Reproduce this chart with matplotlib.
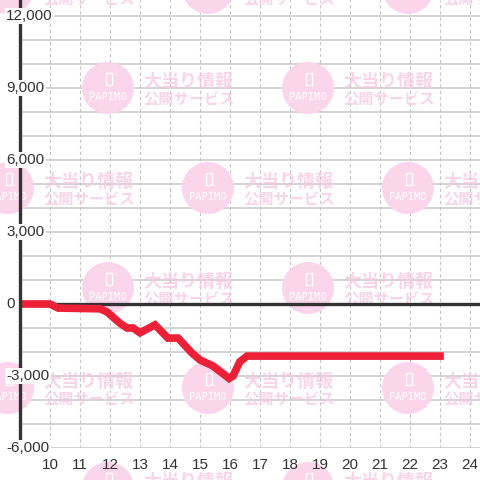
import matplotlib
matplotlib.use("Agg")
import matplotlib.pyplot as plt
import matplotlib.transforms as mtransforms
from matplotlib.patches import Circle, Rectangle

# data
hours = [9, 10, 10.27, 11.67, 11.9, 12.33, 12.57, 12.77, 13.0, 13.5, 13.93,
         14.27, 14.73, 15.0, 15.43, 15.97, 16.1, 16.33, 16.57, 23]
values = [0, 0, -170, -200, -330, -800, -1000, -1000, -1200, -870, -1420,
          -1420, -2040, -2330, -2580, -3100, -3000, -2400, -2170, -2170]
x_ticks = list(range(10, 25))
y_ticks = [12000, 9000, 6000, 3000, 0, -3000, -6000]
y_labels = ["12,000", "9,000", "6,000", "3,000", "0", "-3,000", "-6,000"]

plt.rcParams["font.family"] = ["Liberation Sans", "DejaVu Sans"]

fig = plt.figure(figsize=(4.8, 4.8), dpi=100)
ax = fig.add_axes([20 / 480, 32 / 480, 460 / 480, 448 / 480])
ax.set_xlim(9, 24.333)
ax.set_ylim(-6000, 12667)

# grid
for h in x_ticks:
    ax.axvline(h, color="#c4c4c4", lw=0.8, ls=(0, (3, 2.5)), zorder=0.5)
for v in range(-6000, 12001, 1000):
    ax.axhline(v, color="#c8c8c8", lw=1.1, zorder=0.5)

for s in ["top", "right", "bottom"]:
    ax.spines[s].set_visible(False)
ax.spines["left"].set_color("#333333")
ax.spines["left"].set_linewidth(2.4)
ax.spines["left"].set_zorder(4)

ax.set_xticks(x_ticks)
ax.set_yticks([])
ax.tick_params(axis="x", length=0, pad=7, labelsize=11, labelcolor="#333333")

# watermark tiles (figure pixel coordinates)
tr = mtransforms.Affine2D().scale(1 / 480, -1 / 480).translate(0, 1) + fig.transFigure
centers = [(8, -12), (208, -12), (408, -12),
           (108, 88), (308, 88),
           (8, 188), (208, 188), (408, 188),
           (108, 288), (308, 288),
           (8, 388), (208, 388), (408, 388),
           (108, 488), (308, 488)]
cjk = ["Noto Sans CJK JP", "DejaVu Sans"]
for cx, cy in centers:
    ax.add_artist(Circle((cx, cy), 26, transform=tr, facecolor="#fbd5ea",
                         edgecolor="none", clip_on=False, zorder=1))
    ax.add_artist(Rectangle((cx - 2, cy - 15), 6, 12, transform=tr, facecolor="none",
                            edgecolor="white", lw=0.9, clip_on=False, zorder=1.1))
    ax.text(cx, cy + 9, "PAPIMO", transform=tr, ha="center", va="center",
            color="white", fontsize=7.5, family="DejaVu Sans Mono",
            clip_on=False, zorder=1.1)
    ax.text(cx + 35, cy - 7, "大当り情報", transform=tr, ha="left", va="center",
            color="#f5c8e0", alpha=0.75, fontsize=13, fontweight="bold",
            family=cjk, clip_on=False, zorder=1)
    ax.text(cx + 35, cy + 11, "公開サービス", transform=tr, ha="left", va="center",
            color="#f5c8e0", alpha=0.75, fontsize=11, fontweight="bold",
            family=cjk, clip_on=False, zorder=1)

# zero line and data
ax.axhline(0, color="#333333", lw=2.4, zorder=3)
ax.plot(hours, values, color="#ec2036", lw=5.5, solid_capstyle="projecting",
        solid_joinstyle="miter", zorder=3.5)

# y labels with white boxes over the spine
for v, lab in zip(y_ticks, y_labels):
    ax.text(-14 / 460, v, lab, transform=ax.get_yaxis_transform(), ha="left", va="center",
            fontsize=11, color="#333333", zorder=5, clip_on=False,
            bbox=dict(facecolor="white", edgecolor="none", pad=1))

fig.savefig("out.png", dpi=100)
